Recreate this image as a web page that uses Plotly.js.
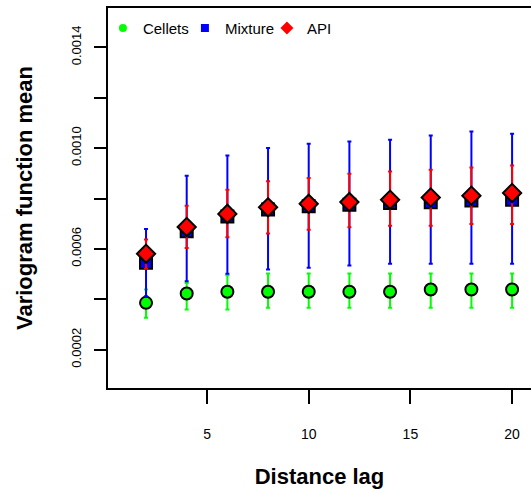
<!DOCTYPE html>
<html>
<head>
<meta charset="utf-8">
<script src="https://cdn.plot.ly/plotly-3.0.1.min.js"></script>
<style>html,body{margin:0;padding:0;background:#fff;}#chart{width:531px;height:493px;}</style>
</head>
<body>
<div id="chart"></div>
<script>
// Distance lags
const lags = [2, 4, 6, 8, 10, 12, 14, 16, 18, 20];

// Cellets
const celletsMean  = [0.000386, 0.000423, 0.000430, 0.000430, 0.000430, 0.000430, 0.000430, 0.000439, 0.000439, 0.000439];
const celletsUpper = [0.000439, 0.000465, 0.000495, 0.000502, 0.000502, 0.000502, 0.000502, 0.000502, 0.000502, 0.000502];
const celletsLower = [0.000327, 0.000360, 0.000360, 0.000366, 0.000366, 0.000366, 0.000366, 0.000366, 0.000366, 0.000366];

// Mixture
const mixtureMean  = [0.000545, 0.000670, 0.000729, 0.000756, 0.000769, 0.000775, 0.000782, 0.000785, 0.000792, 0.000795];
const mixtureUpper = [0.000679, 0.000890, 0.000971, 0.001000, 0.001017, 0.001026, 0.001033, 0.001050, 0.001066, 0.001057];
const mixtureLower = [0.000412, 0.000472, 0.000501, 0.000518, 0.000525, 0.000534, 0.000541, 0.000541, 0.000541, 0.000541];

// API
const apiMean  = [0.000581, 0.000687, 0.000739, 0.000765, 0.000779, 0.000786, 0.000795, 0.000804, 0.000811, 0.000822];
const apiUpper = [0.000637, 0.000771, 0.000835, 0.000868, 0.000881, 0.000898, 0.000907, 0.000914, 0.000923, 0.000931];
const apiLower = [0.000521, 0.000604, 0.000646, 0.000661, 0.000676, 0.000686, 0.000692, 0.000692, 0.000699, 0.000699];

// Axis ticks
const yTickVals = [0.0002, 0.0004, 0.0006, 0.0008, 0.0010, 0.0012, 0.0014];
const yTickText = ['0.0002', '', '0.0006', '', '0.0010', '', '0.0014'];
const xTickVals = [5, 10, 15, 20];
const xTickText = ['5', '10', '15', '20'];

const seriesNames = ['Cellets', 'Mixture', 'API'];

const FONT = 'Liberation Sans, Arial, Helvetica, sans-serif';

function errPlus(upper, mean) { return upper.map((u, i) => u - mean[i]); }
function errMinus(lower, mean) { return lower.map((l, i) => mean[i] - l); }

function seriesTrace(name, mean, upper, lower, color, symbol, size) {
  return {
    type: 'scatter', mode: 'markers', name: name, showlegend: false,
    x: lags, y: mean,
    marker: { color: color, symbol: symbol, size: size, line: { color: '#000', width: 2 } },
    error_y: { type: 'data', symmetric: false, array: errPlus(upper, mean), arrayminus: errMinus(lower, mean),
               color: color, thickness: 2, width: 2 }
  };
}
function legendTrace(name, color, symbol, size) {
  return {
    type: 'scatter', mode: 'markers', name: name, x: [null], y: [null],
    marker: { color: color, symbol: symbol, size: size, line: { width: 0 } },
    showlegend: true
  };
}

const data = [
  seriesTrace(seriesNames[0], celletsMean, celletsUpper, celletsLower, '#00FF00', 'circle', 12),
  seriesTrace(seriesNames[1], mixtureMean, mixtureUpper, mixtureLower, '#0000FF', 'square', 12),
  seriesTrace(seriesNames[2], apiMean, apiUpper, apiLower, '#FF0000', 'diamond', 14),
  legendTrace(seriesNames[0], '#00FF00', 'circle', 8),
  legendTrace(seriesNames[1], '#0000FF', 'square', 8),
  legendTrace(seriesNames[2], '#FF0000', 'diamond', 10)
];

const layout = {
  width: 531, height: 493,
  margin: { l: 108, r: 0, t: 8, b: 105, pad: 0 },
  paper_bgcolor: '#fff', plot_bgcolor: '#fff',
  font: { family: FONT, color: '#000', size: 13 },
  showlegend: true,
  legend: {
    orientation: 'h', x: -0.012, xanchor: 'left', y: 0.99, yanchor: 'top',
    bgcolor: 'rgba(0,0,0,0)', font: { family: FONT, size: 15, color: '#000' },
    itemclick: false, tracegroupgap: 0, entrywidth: 37, entrywidthmode: 'pixels'
  },
  xaxis: {
    range: [0.13, 20.93], showgrid: false, zeroline: false,
    showline: true, linecolor: '#000', linewidth: 2, mirror: true,
    ticks: 'outside', ticklen: 14, tickwidth: 2, tickcolor: '#000',
    tickvals: xTickVals, ticktext: xTickText,
    tickfont: { family: FONT, size: 14, color: '#000' },
    ticklabelstandoff: 18,
    title: { text: 'Distance lag', font: { family: FONT, size: 22, color: '#000', weight: 'bold' }, standoff: 28 }
  },
  yaxis: {
    range: [0.000048, 0.001556], showgrid: false, zeroline: false,
    showline: true, linecolor: '#000', linewidth: 2, mirror: false,
    ticks: 'outside', ticklen: 12, tickwidth: 2, tickcolor: '#000',
    tickvals: yTickVals, ticktext: yTickText, tickangle: -90,
    tickfont: { family: FONT, size: 13, color: '#000' },
    ticklabelstandoff: 8,
    title: { text: 'Variogram function mean', font: { family: FONT, size: 22, color: '#000', weight: 'bold' }, standoff: 30 }
  }
};

Plotly.newPlot('chart', data, layout, { staticPlot: true, displayModeBar: false });
</script>
</body>
</html>
